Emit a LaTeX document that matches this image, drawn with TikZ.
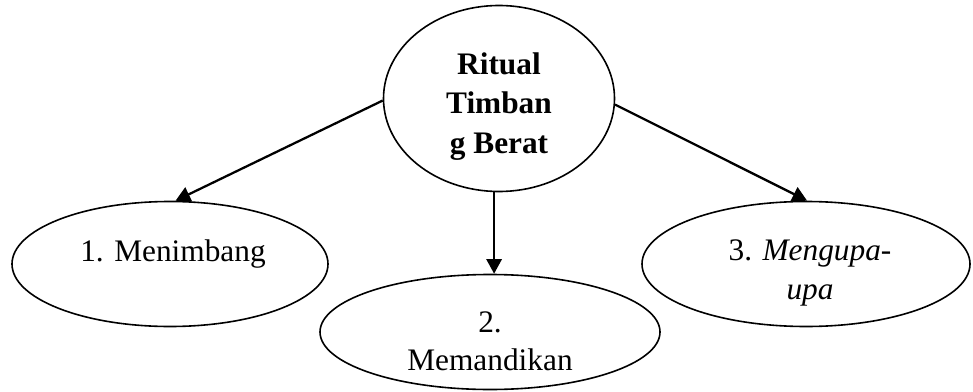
\documentclass[tikz,border=0pt]{standalone}
\usepackage{fontspec}
\setmainfont{Liberation Serif}
\usetikzlibrary{shapes.geometric,arrows.meta}
\begin{document}
\begin{tikzpicture}[x=0.75pt,y=-0.75pt,
  oval/.style={ellipse,draw,line width=1.2pt,inner sep=0pt},
  lbl/.style={anchor=base,inner sep=0pt,font=\fontsize{23.5}{28}\selectfont},
  blbl/.style={lbl,font=\fontsize{23.5}{28}\selectfont\bfseries},
  arrowline/.style={line width=1.7pt,-{Triangle[length=11pt,width=11.5pt]}}]
\useasboundingbox (0,0) rectangle (973,392);
\node[oval,minimum width=173.25pt,minimum height=139.5pt] (top) at (499,98.5) {};
\node[oval,minimum width=237pt,minimum height=93.75pt] (left) at (170,264) {};
\node[oval,minimum width=255pt,minimum height=86.25pt] (mid) at (490,332) {};
\node[oval,minimum width=246pt,minimum height=93.75pt] (right) at (806,264) {};
\node[blbl] (t1) at (499,75) {Ritual};
\node[blbl] (t2) at (499,114) {Timban};
\node[blbl] (t3) at (499,153) {g Berat};
\node[lbl] (l1) at (173,261) {1. Menimbang};
\node[lbl] (m1) at (490,332) {2.};
\node[lbl] (m2) at (490,370) {Memandikan};
\node[lbl] (r1) at (810,260) {3. \textit{Mengupa-}};
\node[lbl] (r2) at (810,299) {\textit{upa}};
\draw[arrowline] (top.181) -- (left.85);
\draw[arrowline] (top.267.5) -- (top.267.5 |- mid.north);
\draw[arrowline] (top.357) -- (right.89);
\end{tikzpicture}
\end{document}
